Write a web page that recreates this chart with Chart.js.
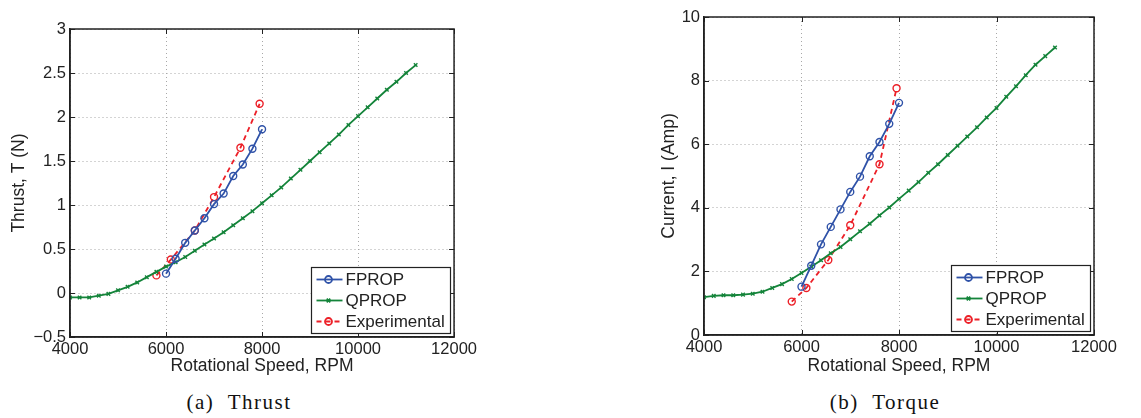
<!DOCTYPE html>
<html>
<head>
<meta charset="utf-8">
<script src="https://cdn.jsdelivr.net/npm/chart.js@4.4.1/dist/chart.umd.min.js"></script>
<style>
  html, body { margin: 0; padding: 0; background: #fff; }
  body { width: 1141px; height: 418px; position: relative; overflow: hidden; }
  .box { position: absolute; top: 0; height: 380px; }
  .caption {
    position: absolute; top: 390px; width: 300px; text-align: center;
    font-family: "Liberation Serif", "DejaVu Serif", serif; font-size: 21px;
    letter-spacing: 1.5px; color: #111;
  }
</style>
</head>
<body>
<div class="box" style="left:0;width:480px"><canvas id="thrust"></canvas></div>
<div class="box" style="left:600px;width:520px"><canvas id="torque"></canvas></div>
<div class="caption" style="left:89px">(a)&nbsp;&nbsp;Thrust</div>
<div class="caption" style="left:735px">(b)&nbsp;&nbsp;Torque</div>
<script>
// rpm for each model
const qpropRpm = [4000, 4200, 4400, 4600, 4800, 5000, 5200, 5400, 5600, 5800, 6000, 6200, 6400, 6600, 6800, 7000, 7200, 7400, 7600,
  7800, 8000, 8200, 8400, 8600, 8800, 9000, 9200, 9400, 9600, 9800, 10000, 10200, 10400, 10600, 10800, 11000, 11200];
const fpropRpm = [6000, 6200, 6400, 6600, 6800, 7000, 7200, 7400, 7600, 7800, 8000];
const expThrustRpm = [5800, 6100, 6600, 7000, 7550, 7950];
const expCurrentRpm = [5800, 6100, 6550, 7000, 7600, 7950];

// thrust (N)
const thrustQprop = [-0.05, -0.05, -0.05, -0.03, -0.01, 0.03, 0.07, 0.12, 0.18, 0.24, 0.30, 0.35, 0.41, 0.48, 0.55, 0.62, 0.69, 0.77, 0.85,
  0.93, 1.02, 1.11, 1.20, 1.30, 1.40, 1.50, 1.60, 1.70, 1.80, 1.91, 2.01, 2.11, 2.21, 2.31, 2.40, 2.50, 2.59];
const thrustFprop = [0.22, 0.39, 0.57, 0.71, 0.85, 1.01, 1.13, 1.33, 1.46, 1.64, 1.86];
const thrustExp = [0.20, 0.38, 0.71, 1.09, 1.65, 2.15];

// current (Amp)
const currentQprop = [1.19, 1.23, 1.25, 1.25, 1.27, 1.30, 1.36, 1.48, 1.60, 1.76, 1.95, 2.15, 2.35, 2.57, 2.77, 3.01, 3.26, 3.50, 3.76,
  4.01, 4.28, 4.54, 4.81, 5.10, 5.37, 5.66, 5.95, 6.24, 6.53, 6.84, 7.14, 7.49, 7.82, 8.17, 8.50, 8.77, 9.04];
const currentFprop = [1.52, 2.18, 2.85, 3.40, 3.95, 4.50, 4.98, 5.62, 6.07, 6.64, 7.30];
const currentExp = [1.05, 1.48, 2.36, 3.45, 5.37, 7.76];

const seriesNames = ['FPROP', 'QPROP', 'Experimental'];
const xTicks = { min: 4000, max: 12000, step: 2000 };

const FONT = '"Liberation Sans", Arial, Helvetica, sans-serif';
const INK = '#222';
const BLUE = '#2f52a8';
const GREEN = '#14843a';
const RED = '#ec1f27';

const pairs = (xs, ys) => xs.map((x, i) => ({ x, y: ys[i] }));

// axes box + inward tick marks, matlab style
const boxPlugin = {
  id: 'box',
  afterDatasetsDraw(chart) {
    const { ctx, chartArea: a, scales } = chart;
    ctx.save();
    ctx.strokeStyle = INK;
    ctx.lineWidth = 1;
    ctx.beginPath();
    scales.x.ticks.forEach((t) => {
      const px = Math.round(scales.x.getPixelForValue(t.value)) + 0.5;
      ctx.moveTo(px, a.bottom); ctx.lineTo(px, a.bottom - 5);
      ctx.moveTo(px, a.top); ctx.lineTo(px, a.top + 5);
    });
    scales.y.ticks.forEach((t) => {
      const py = Math.round(scales.y.getPixelForValue(t.value)) + 0.5;
      ctx.moveTo(a.left, py); ctx.lineTo(a.left + 5, py);
      ctx.moveTo(a.right, py); ctx.lineTo(a.right - 5, py);
    });
    ctx.stroke();
    ctx.lineWidth = 1.5;
    ctx.strokeRect(a.left, a.top, a.right - a.left, a.bottom - a.top);
    ctx.restore();
  }
};

// boxed legend in the lower right corner, built from the datasets
const boxLegend = {
  id: 'boxLegend',
  afterDraw(chart) {
    const { ctx, chartArea: a } = chart;
    const w = 139, h = 66;
    const left = Math.round(a.right - 4 - w) + 0.5;
    const top = Math.round(a.bottom - 4 - h) + 0.5;
    ctx.save();
    ctx.fillStyle = '#fff';
    ctx.fillRect(left, top, w, h);
    ctx.strokeStyle = INK;
    ctx.lineWidth = 1.2;
    ctx.strokeRect(left, top, w, h);
    ctx.font = '17px ' + FONT;
    ctx.textBaseline = 'middle';
    chart.data.datasets.forEach((ds, i) => {
      const y = top + 12 + i * 21;
      ctx.strokeStyle = ds.borderColor;
      ctx.lineWidth = ds.borderWidth;
      ctx.setLineDash(ds.borderDash || []);
      ctx.beginPath();
      ctx.moveTo(left + 5, y); ctx.lineTo(left + 31, y);
      ctx.stroke();
      ctx.setLineDash([]);
      ctx.fillStyle = 'rgba(0,0,0,0)';
      Chart.helpers.drawPoint(ctx, {
        pointStyle: ds.pointStyle, radius: ds.pointRadius, borderWidth: ds.pointBorderWidth, rotation: 0
      }, left + 17, y);
      ctx.fillStyle = INK;
      ctx.fillText(ds.label, left + 34, y + 1);
    });
    ctx.restore();
  }
};

function fmt(v) {
  return v < 0 ? '\u2212' + Math.abs(v) : String(v);
}

function makeChart(id, opts) {
  const datasets = [
    { label: seriesNames[0], data: pairs(fpropRpm, opts.fprop), borderColor: BLUE, borderWidth: 1.8,
      pointStyle: 'circle', pointRadius: 3.5, pointBorderWidth: 1.4, pointBackgroundColor: 'rgba(0,0,0,0)', pointBorderColor: BLUE },
    { label: seriesNames[1], data: pairs(qpropRpm, opts.qprop), borderColor: GREEN, borderWidth: 1.8,
      pointStyle: 'crossRot', pointRadius: 2.5, pointBorderWidth: 1.4, pointBorderColor: GREEN },
    { label: seriesNames[2], data: pairs(opts.expRpm, opts.exp), borderColor: RED, borderWidth: 1.8, borderDash: [5, 4],
      pointStyle: 'circle', pointRadius: 3.5, pointBorderWidth: 1.4, pointBackgroundColor: 'rgba(0,0,0,0)', pointBorderColor: RED }
  ];
  datasets.forEach((d) => { d.showLine = true; d.fill = false; d.tension = 0; });

  const grid = { color: '#a8a8a8', lineWidth: 1, drawTicks: false, tickLength: 0 };
  const border = { display: true, color: INK, width: 1.5, dash: [1, 3] };
  const tickFont = { family: FONT, size: 16.5 };
  const titleFont = { family: FONT, size: 17.5 };
  return new Chart(document.getElementById(id), {
    type: 'scatter',
    data: { datasets },
    options: {
      responsive: true,
      maintainAspectRatio: false,
      animation: false,
      layout: { padding: { top: opts.padTop, right: opts.padRight, bottom: 3, left: 0 } },
      plugins: { legend: { display: false }, tooltip: { enabled: false } },
      scales: {
        x: {
          type: 'linear', min: xTicks.min, max: xTicks.max,
          ticks: { stepSize: xTicks.step, padding: 3, color: INK, font: tickFont, callback: fmt, maxRotation: 0 },
          grid: { ...grid },
          border: { ...border },
          title: { display: true, text: 'Rotational Speed, RPM', color: INK, font: titleFont, padding: { top: 0, bottom: 0 } },
          afterFit(s) { s.height = opts.xHeight; }
        },
        y: {
          type: 'linear', min: opts.yMin, max: opts.yMax,
          ticks: { stepSize: opts.yStep, padding: 4, color: INK, font: tickFont, callback: fmt },
          grid: { ...grid },
          border: { ...border },
          title: { display: true, text: opts.yTitle, color: INK, font: titleFont, padding: { top: opts.yTitlePad, bottom: 0 } },
          afterFit(s) { s.width = opts.yWidth; }
        }
      }
    },
    plugins: [boxPlugin, boxLegend]
  });
}

makeChart('thrust', {
  fprop: thrustFprop, qprop: thrustQprop, expRpm: expThrustRpm, exp: thrustExp,
  yMin: -0.5, yMax: 3, yStep: 0.5, yTitle: 'Thrust, T (N)', yTitlePad: 9, yWidth: 70,
  padTop: 29, padRight: 20, xHeight: 40
});

makeChart('torque', {
  fprop: currentFprop, qprop: currentQprop, expRpm: expCurrentRpm, exp: currentExp,
  yMin: 0, yMax: 10, yStep: 2, yTitle: 'Current, I (Amp)', yTitlePad: 59, yWidth: 104,
  padTop: 17, padRight: 26, xHeight: 42
});
</script>
</body>
</html>
